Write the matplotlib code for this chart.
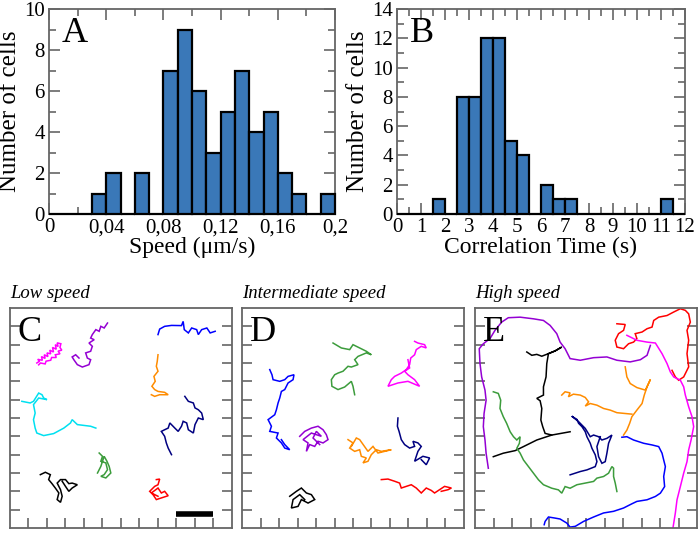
import numpy as np
import matplotlib
matplotlib.use("Agg")
import matplotlib.pyplot as plt

plt.rcParams['font.family'] = ['Liberation Serif', 'DejaVu Serif']

# ---------------- Histogram data ----------------
speed_edges = [i * 0.01 for i in range(20)]
speed_counts = [0, 0, 0, 1, 2, 0, 2, 0, 7, 9, 6, 3, 5, 7, 4, 5, 2, 1, 0, 1]
speed_ticks = [0, 0.04, 0.08, 0.12, 0.16, 0.2]
speed_ticklabels = ['0', '0,04', '0,08', '0,12', '0,16', '0,2']

corr_edges = [i * 0.5 for i in range(24)]
corr_counts = [0, 0, 0, 1, 0, 8, 8, 12, 12, 5, 4, 0, 2, 1, 1, 0, 0, 0, 0, 0, 0, 0, 1, 0]
corr_ticks = list(range(13))

# ---------------- Trajectory data (grid units 0-12) ----------------
c_magenta = [(1.45,9.0),(1.6,9.1),(1.5,9.2),(1.75,9.15),(1.7,9.35),(1.9,9.25),(1.85,9.45),(2.05,9.35),
             (2.0,9.55),(2.2,9.5),(2.15,9.7),(2.35,9.6),(2.3,9.85),(2.5,9.75),(2.45,10.0),(2.6,9.9),
             (2.55,10.1),(2.75,10.05),(2.7,9.85),(2.8,9.7),(2.6,9.65),(2.7,9.5),(2.45,9.45),(2.5,9.3),
             (2.25,9.3),(2.2,9.15),(1.95,9.1),(1.9,8.95),(1.65,9.0),(1.55,8.9)]
c_purple = [(5.27,11.18),(5.09,10.91),(4.91,11.0),(4.82,10.73),(4.64,10.82),(4.45,10.55),(4.36,10.36),(4.55,10.27),
            (4.27,10.09),(4.45,9.91),(4.36,9.64),(4.09,9.55),(4.18,9.27),(4.36,9.18),(4.27,8.91),(3.91,8.78),
            (3.64,8.91),(3.45,9.18),(3.36,9.33),(3.55,9.45),(3.73,9.27)]
c_blue = [(8.0,10.55),(8.09,10.85),(8.36,11.0),(8.73,11.05),(9.27,11.04),(9.36,11.27),(9.42,10.82),(9.64,10.64),
          (9.82,10.91),(10.09,10.82),(10.18,10.55),(10.36,10.82),(10.64,10.91),(10.82,10.64),(11.09,10.73)]
c_orange = [(8.0,9.45),(7.96,9.09),(7.91,8.82),(8.0,8.55),(7.78,8.27),(7.85,8.0),(7.67,7.73),(7.82,7.55),
            (8.0,7.45),(8.36,7.4),(8.55,7.27),(8.09,7.27),(7.82,7.18),(7.64,7.27)]
c_cyan = [(0.64,6.91),(1.09,6.82),(1.27,6.91),(1.55,7.36),(1.73,7.27),(1.82,7.09),(2.0,7.0),(1.55,7.09),
          (1.27,6.73),(1.36,6.27),(1.27,5.91),(1.36,5.45),(1.45,5.18),(1.82,5.04),(2.36,5.15),(2.91,5.45),
          (3.27,5.73),(3.36,5.91),(3.64,5.64),(4.36,5.55),(4.64,5.45)]
c_navy = [(9.45,7.18),(9.64,6.91),(9.91,6.82),(10.0,6.55),(10.18,6.45),(10.36,6.27),(10.45,5.91),(10.18,6.0),
          (10.0,5.64),(9.91,5.18),(9.64,5.36),(9.55,5.73),(9.36,5.82),(9.27,5.55),(9.09,5.27),(8.91,5.45),
          (8.64,5.73),(8.55,5.45),(8.36,5.36),(8.18,5.27),(8.36,5.0),(8.45,4.64),(8.55,4.36),(8.73,4.0)]
c_green = [(4.82,4.09),(5.0,3.91),(4.91,3.64),(5.18,3.55),(5.27,3.18),(5.09,2.91),(4.91,2.82),(5.18,2.73),
           (5.45,3.0),(5.36,3.36),(5.24,3.64),(5.09,3.91),(4.91,3.36),(4.73,3.0)]
c_black = [(1.64,2.91),(1.91,3.04),(2.18,2.91),(2.09,2.64),(2.27,2.42),(2.45,2.18),(2.64,1.91),(2.55,1.55),
           (2.73,1.4),(2.82,1.73),(2.73,2.09),(2.55,2.45),(2.73,2.64),(3.0,2.64),(3.18,2.42),(3.36,2.45),
           (3.64,2.36),(3.36,2.18),(3.18,2.0),(3.0,2.27),(2.82,2.55)]
c_red = [(7.91,2.64),(8.09,2.67),(8.0,2.36),(7.82,2.27),(7.55,2.0),(7.73,1.82),(7.91,1.55),(8.18,1.64),
         (8.55,1.76),(8.36,2.0),(8.18,1.91),(8.0,2.18),(7.64,1.91),(8.0,1.73)]

d_green = [(4.92,10.09),(5.37,9.82),(5.82,9.73),(6.0,10.0),(6.36,9.82),(6.72,9.64),(6.99,9.45),(6.72,9.55),
           (6.27,9.36),(6.09,9.18),(6.27,8.91),(5.91,8.78),(5.73,8.82),(5.46,8.55),(5.19,8.45),(5.01,8.36),
           (4.83,8.09),(4.86,7.73),(5.19,7.55),(5.55,7.69),(5.91,8.0),(6.0,7.73),(6.09,7.27)]
d_magenta = [(9.33,10.18),(9.51,10.09),(9.87,10.0),(9.96,9.82),(9.69,9.91),(9.42,9.73),(9.33,9.45),(9.12,9.27),
             (9.06,8.91),(8.88,8.64),(8.61,8.45),(8.25,8.27),(8.07,8.09),(7.89,7.73),(8.43,7.91),(8.97,8.0),
             (9.6,7.73),(9.33,8.09),(8.97,8.36),(8.79,8.55),(9.06,8.73),(8.97,9.18)]
d_blue = [(1.5,8.64),(1.62,8.36),(1.68,8.09),(2.04,8.0),(2.31,8.09),(2.49,8.27),(2.81,8.36),(2.76,8.09),
          (2.49,7.91),(2.31,7.55),(2.13,7.45),(2.04,7.09),(1.95,6.82),(1.86,6.45),(1.77,6.18),(1.41,5.91),
          (1.59,5.55),(1.5,5.27),(1.95,5.18),(1.86,4.91),(2.13,4.64),(2.31,4.36),(2.58,4.27),(2.31,4.55),(2.13,4.82)]
d_purple = [(3.12,5.0),(3.39,5.27),(3.75,5.45),(4.11,5.55),(4.38,5.36),(4.56,5.09),(4.65,4.82),(4.38,4.64),
            (4.11,4.73),(3.93,4.45),(3.66,4.55),(3.48,4.18),(3.57,4.64),(3.3,4.82),(3.75,5.18),(4.29,5.0),
            (4.02,5.27),(3.84,4.91),(4.2,4.55)]
d_orange = [(5.73,4.82),(6.0,4.64),(5.82,4.36),(6.09,4.18),(6.36,4.27),(6.45,3.91),(6.72,3.82),(6.54,3.55),
            (6.81,3.64),(6.99,4.0),(7.26,4.27),(7.53,4.18),(8.07,4.27),(7.35,4.09),(7.08,4.45),(6.81,4.18),
            (6.36,4.82),(6.18,4.91),(5.91,4.45)]
d_navy = [(8.43,6.0),(8.4,5.55),(8.49,5.27),(8.61,4.82),(8.79,4.55),(9.06,4.36),(9.33,4.45),(9.24,4.73),
          (9.51,4.64),(9.69,4.45),(9.51,4.18),(9.42,3.91),(9.33,3.64),(9.78,3.91),(10.14,3.82),(9.96,3.45),(9.69,3.73)]
d_red = [(7.53,2.64),(7.89,2.67),(8.25,2.55),(8.52,2.45),(8.61,2.18),(8.88,2.27),(9.15,2.36),(9.42,2.18),
         (9.69,1.91),(9.96,2.18),(10.23,2.05),(10.41,1.91),(10.68,2.09),(10.95,2.27),(11.32,2.18),(11.14,2.09),(10.77,2.0)]
d_black = [(2.58,1.73),(2.94,2.0),(3.21,2.18),(3.48,1.91),(3.75,1.82),(3.93,1.55),(3.57,1.36),(3.21,1.55),
           (3.03,1.18),(2.67,1.09),(2.76,1.55),(3.12,1.82),(3.39,1.55)]

e_purple = [(0.72,3.26),(0.6,4.08),(0.54,4.8),(0.45,5.53),(0.49,6.25),(0.6,6.97),(0.54,7.52),(0.36,8.24),
            (0.27,8.97),(0.23,9.78),(0.45,10.05),(0.81,10.33),(1.08,10.78),(1.44,11.23),(1.8,11.47),(2.44,11.5),
            (3.16,11.41),(3.7,11.32),(4.06,11.05),(4.42,10.6),(4.6,10.14),(4.87,9.78),(5.14,9.24),(5.69,9.15),
            (6.41,9.29),(7.13,9.33),(7.67,9.15),(8.39,9.06),(8.94,9.18),(9.3,9.42),(9.48,9.96)]
e_red = [(7.67,11.14),(8.12,11.1),(8.03,10.78),(7.76,10.6),(7.58,10.24),(7.67,9.87),(8.03,9.78),(8.3,10.05),
         (8.57,10.14),(8.75,10.33),(8.66,10.6),(9.03,10.69),(9.3,10.87),(9.57,10.96),(9.66,11.32),(9.93,11.5),
         (10.38,11.59),(10.74,11.78),(11.1,11.96),(11.37,11.87),(11.55,11.68),(11.64,11.23),(11.46,10.78),
         (11.55,10.24),(11.46,9.51),(11.55,8.79),(11.28,8.24),(11.01,8.06),(10.83,8.24),(10.65,8.6)]
e_magenta = [(8.21,10.51),(8.75,10.24),(9.3,10.14),(9.75,10.09),(10.11,9.51),(10.38,8.97),(10.56,8.51),
             (10.74,8.24),(11.1,8.06),(11.28,7.7),(11.37,7.25),(11.55,6.61),(11.73,6.07),(11.82,5.53),
             (11.68,4.8),(11.55,4.26),(11.46,3.62),(11.28,2.99),(11.1,2.26),(10.92,1.54),(10.83,0.82),(10.7,0.0)]
e_black = [(5.14,5.25),(4.15,5.07),(3.79,5.16),(3.66,5.53),(3.56,5.89),(3.61,6.52),(3.52,6.94),(3.34,7.07),
           (3.7,7.25),(3.7,7.7),(3.84,8.24),(3.88,8.97),(3.97,9.51),(4.33,9.66),(4.69,9.87),(4.33,9.66),
           (3.97,9.51),(3.61,9.37),(3.34,9.47),(3.07,9.42),(2.8,9.6)]
e_black_tail = [(4.15,5.07),(3.34,4.8),(2.62,4.44),(2.17,4.22),(1.53,4.08),(0.99,3.89)]
e_orange = [(8.12,8.79),(8.21,8.24),(8.39,7.88),(8.75,7.66),(9.21,7.52),(9.48,8.1),(9.3,7.7),(9.15,7.25),
            (9.03,6.79),(8.75,6.43),(8.48,6.07),(8.36,5.71),(8.21,5.34),(8.03,5.07)]
e_orange_arm = [(4.69,7.25),(4.87,7.43),(5.14,7.37),(5.05,7.16),(5.32,7.3),(5.69,7.25),(5.96,7.12),(6.14,6.88),
                (5.96,6.65),(6.23,6.79),(6.59,6.7),(6.95,6.52),(7.31,6.43),(7.67,6.29),(8.48,6.21)]
e_green = [(0.99,7.43),(1.26,7.34),(1.39,6.97),(1.35,6.52),(1.53,6.07),(1.71,5.71),(1.9,5.25),(2.08,4.98),
           (2.26,4.8),(2.44,4.98),(2.4,4.62),(2.26,4.35),(2.44,4.08),(2.62,3.71),(2.89,3.35),(3.16,2.99),
           (3.43,2.63),(3.7,2.36),(4.15,2.17),(4.51,2.08),(4.69,1.9),(4.87,2.26),(5.14,2.17),(5.51,2.36),
           (5.96,2.45),(6.41,2.54),(6.59,2.72),(6.95,2.81),(7.22,2.99),(7.4,3.35),(7.49,3.26),(7.49,2.81),
           (7.58,2.45),(7.67,1.99)]
e_navy = [(5.14,2.9),(5.69,3.08),(6.05,3.17),(6.5,3.35),(6.59,3.62),(6.5,3.99),(6.32,4.35),(6.23,4.62),
          (6.05,4.98),(5.96,5.25),(5.78,5.53),(5.6,5.71),(5.51,5.92),(5.23,6.1),(5.6,5.8),(5.96,5.43),
          (6.23,4.98),(6.41,5.07),(6.68,4.98),(6.86,4.8),(7.13,4.89),(7.4,5.07),(7.22,4.62),(7.13,4.08),
          (7.04,3.62),(6.86,3.53),(6.68,3.89),(6.59,4.44),(6.77,4.98)]
e_blue = [(7.94,4.95),(8.21,4.98),(8.57,4.8),(9.12,4.62),(9.57,4.53),(9.93,4.44),(10.11,4.08),(10.2,3.71),
          (10.29,3.35),(10.2,2.81),(10.25,2.26),(10.02,1.9),(9.75,1.72),(9.3,1.54),(8.75,1.45),(8.48,1.32),
          (8.03,1.09),(7.49,0.91),(6.95,0.82),(6.41,0.6),(5.87,0.36),(5.42,0.09),(5.14,0.05),(4.96,0.27),
          (4.6,0.49),(4.33,0.54),(3.97,0.6),(3.79,0.36),(3.74,0.18)]

panel_c = [(c_magenta, '#ff00ff'), (c_purple, '#9400d3'), (c_blue, '#0000ff'), (c_orange, '#ff8c00'),
           (c_cyan, '#00e0f0'), (c_navy, '#000080'), (c_green, '#3c9c3c'), (c_black, '#000000'), (c_red, '#ff0000')]
panel_d = [(d_green, '#3c9c3c'), (d_magenta, '#ff00ff'), (d_blue, '#0000ff'), (d_purple, '#9400d3'),
           (d_orange, '#ff8c00'), (d_navy, '#000080'), (d_red, '#ff0000'), (d_black, '#000000')]
panel_e = [(e_purple, '#9400d3'), (e_red, '#ff0000'), (e_magenta, '#ff00ff'), (e_black, '#000000'),
           (e_black_tail, '#000000'), (e_orange, '#ff8c00'), (e_orange_arm, '#ff8c00'), (e_green, '#3c9c3c'),
           (e_navy, '#000080'), (e_blue, '#0000ff')]

BAR = '#3a78b8'
SPINE = '#666666'

fig = plt.figure(figsize=(7.0, 5.33), dpi=100)
W, H = 700.0, 533.0

def add_ax(l, t, r, b):
    return fig.add_axes([l / W, 1 - b / H, (r - l) / W, (b - t) / H])

def style(ax):
    for s in ax.spines.values():
        s.set_color(SPINE)
        s.set_linewidth(1.3)
    ax.tick_params(which='both', direction='in', top=True, right=True, color=SPINE, width=1.2)
    ax.tick_params(which='major', length=8)
    ax.tick_params(which='minor', length=5)

# Panel A
axA = add_ax(49, 9, 335, 214)
axA.bar(speed_edges, speed_counts, width=0.01, align='edge', color=BAR, edgecolor='black',
        linewidth=1.6, clip_on=False, zorder=3)
axA.set_xlim(0, 0.2)
axA.set_ylim(0, 10)
axA.set_xticks(speed_ticks)
axA.set_xticklabels(speed_ticklabels)
axA.set_xticks([0.02, 0.06, 0.10, 0.14, 0.18], minor=True)
axA.set_yticks(range(0, 11, 2))
axA.set_yticks(range(1, 10, 2), minor=True)
style(axA)
axA.tick_params(labelsize=15, pad=3)
axA.set_xlabel('Speed (μm/s)', fontsize=17, labelpad=0)
axA.set_ylabel('Number of cells', fontsize=18, labelpad=2)
axA.text(0.045, 0.96, 'A', transform=axA.transAxes, fontsize=26, va='top', ha='left')

# Panel B
axB = add_ax(397, 9, 685, 214)
axB.bar(corr_edges, corr_counts, width=0.5, align='edge', color=BAR, edgecolor='black',
        linewidth=1.6, clip_on=False, zorder=3)
axB.set_xlim(0, 12)
axB.set_ylim(0, 14)
axB.set_xticks(corr_ticks)
axB.set_xticks([i + 0.5 for i in range(12)], minor=True)
axB.set_yticks(range(0, 15, 2))
axB.set_yticks(range(1, 14, 2), minor=True)
style(axB)
axB.tick_params(labelsize=15, pad=3)
axB.set_xlabel('Correlation Time (s)', fontsize=17, labelpad=0)
axB.set_ylabel('Number of cells', fontsize=18, labelpad=2)
axB.text(0.045, 0.96, 'B', transform=axB.transAxes, fontsize=26, va='top', ha='left')

# Trajectory panels
def traj_panel(l, r, tracks, letter, title):
    ax = add_ax(l, 308, r, 528)
    for pts, col in tracks:
        xs = [p[0] for p in pts]
        ys = [p[1] for p in pts]
        ax.plot(xs, ys, color=col, lw=1.1, solid_joinstyle='miter')
    ax.set_xlim(0, 12)
    ax.set_ylim(0, 12)
    ax.set_xticks(range(1, 12))
    ax.set_yticks(range(1, 12))
    ax.set_xticklabels([])
    ax.set_yticklabels([])
    for s in ax.spines.values():
        s.set_color(SPINE)
        s.set_linewidth(1.3)
    ax.tick_params(which='both', direction='in', top=False, right=True, left=True, bottom=True,
                   color=SPINE, width=1.2, length=7)
    ax.text(0.035, 0.965, letter, transform=ax.transAxes, fontsize=26, va='top', ha='left')
    ax.text(0.0, 1.025, title, transform=ax.transAxes, fontsize=13.5, style='italic',
            va='bottom', ha='left')
    return ax

axC = traj_panel(10, 232, panel_c, 'C', 'Low speed')
axC.plot([9.0, 11.0], [0.75, 0.75], color='black', lw=4, solid_capstyle='butt')
axD = traj_panel(242, 464, panel_d, 'D', 'Intermediate speed')
axE = traj_panel(475, 697, panel_e, 'E', 'High speed')

fig.savefig('out.png', dpi=100)
